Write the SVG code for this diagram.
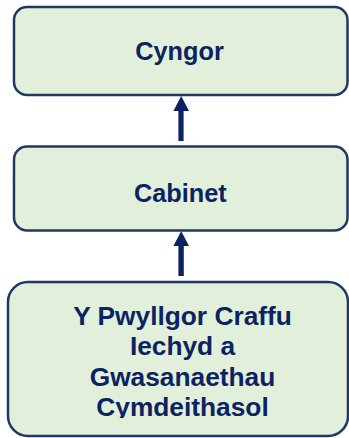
<svg xmlns="http://www.w3.org/2000/svg" width="349" height="438" viewBox="0 0 349 438">
<style>
.box{fill:#E2EFDA;stroke:#1F3864;stroke-width:2.5}
.lbl{font-family:"Liberation Sans",Arial,sans-serif;font-weight:bold;fill:#0B2461;text-anchor:middle}
.arr{fill:#0B2461}
</style>
<defs>
<clipPath id="clip3"><rect x="0" y="290" width="349" height="128"/></clipPath>
</defs>
<rect width="349" height="438" fill="#FFFFFF"/>
<g id="node-cyngor">
<rect class="box" x="14" y="7" width="333.5" height="88" rx="13"/>
<text class="lbl" x="179.5" y="60" font-size="25.3">Cyngor</text>
</g>
<g id="node-cabinet">
<rect class="box" x="14" y="146.5" width="333.5" height="84" rx="13"/>
<text class="lbl" x="180.3" y="202" font-size="25.3">Cabinet</text>
</g>
<g id="node-pwyllgor">
<rect class="box" x="8" y="282" width="340" height="154" rx="20"/>
<g clip-path="url(#clip3)">
<text class="lbl" x="182.5" y="325" font-size="26.3">Y Pwyllgor Craffu</text>
<text class="lbl" x="182.5" y="355.3" font-size="26.3">Iechyd a</text>
<text class="lbl" x="182.5" y="385.6" font-size="26.3">Gwasanaethau</text>
<text class="lbl" x="182.5" y="415.9" font-size="26.3">Cymdeithasol</text>
</g>
</g>
<g id="connectors">
<path class="arr" d="M181.2 96 L189 111 L183.6 111 L183.6 141 L178.4 141 L178.4 111 L173.4 111 Z"/>
<path class="arr" d="M181.2 231 L189 246 L183.8 246 L183.8 276 L178.4 276 L178.4 246 L173.4 246 Z"/>
</g>
</svg>
